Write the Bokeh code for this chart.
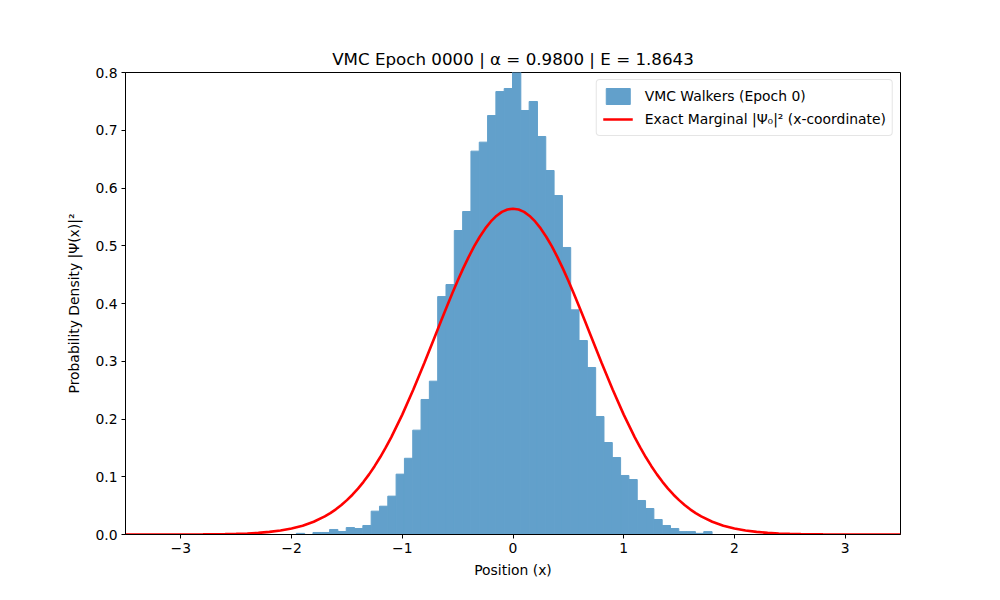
import numpy as np
from bokeh.plotting import figure
from bokeh.models import Legend, LegendItem, FixedTicker, Range1d
from bokeh.embed import file_html
from bokeh.resources import INLINE

# Histogram of walker positions (density-normalised), uniform bins
bin_start = -1.957
bin_width = 0.0751
walker_density = [
    0.0020, 0.0000, 0.0035, 0.0035, 0.0087, 0.0052, 0.0120, 0.0104, 0.0156, 0.0404,
    0.0490, 0.0664, 0.1045, 0.1320, 0.1807, 0.2338, 0.2655, 0.4120, 0.4329, 0.5264,
    0.5593, 0.6638, 0.6794, 0.7255, 0.7670, 0.7723, 0.8050, 0.7342, 0.7498, 0.6892,
    0.6303, 0.5870, 0.4970, 0.3890, 0.3359, 0.2892, 0.2043, 0.1593, 0.1333, 0.1022,
    0.0952, 0.0589, 0.0450, 0.0260, 0.0156, 0.0104, 0.0050, 0.0050, 0.0020, 0.0050,
]

# Exact ground-state marginal density along x
curve_x = [
    -3.5, -3.0, -2.8, -2.6, -2.5, -2.4, -2.3, -2.2, -2.1, -2.0, -1.9, -1.8, -1.7,
    -1.65, -1.6, -1.55, -1.5, -1.45, -1.4, -1.35, -1.3, -1.25, -1.2, -1.15, -1.1,
    -1.0, -0.9, -0.8, -0.7, -0.65, -0.6, -0.55, -0.5, -0.45, -0.4, -0.35, -0.3,
    -0.25, -0.2, -0.15, -0.1, -0.05, 0.0, 0.05, 0.1, 0.15, 0.2, 0.25, 0.3, 0.35,
    0.4, 0.45, 0.5, 0.55, 0.6, 0.65, 0.7, 0.8, 0.9, 1.0, 1.1, 1.15, 1.2, 1.25, 1.3,
    1.35, 1.4, 1.45, 1.5, 1.55, 1.6, 1.65, 1.7, 1.8, 1.9, 2.0, 2.1, 2.2, 2.3, 2.4,
    2.5, 2.6, 2.8, 3.0, 3.5,
]
curve_density = [
    0.0000, 0.0001, 0.0002, 0.0007, 0.0011, 0.0018, 0.0028, 0.0045, 0.0069, 0.0103,
    0.0153, 0.0221, 0.0314,
    0.0371, 0.0436, 0.0510, 0.0595, 0.0689, 0.0795, 0.0912, 0.1041, 0.1183, 0.1337,
    0.1503, 0.1682,
    0.2076, 0.2510, 0.2975, 0.3456, 0.3698, 0.3936, 0.4169, 0.4394, 0.4608, 0.4808,
    0.4992, 0.5156,
    0.5300, 0.5421, 0.5516, 0.5586, 0.5628, 0.5642, 0.5628, 0.5586, 0.5516, 0.5421,
    0.5300, 0.5156, 0.4992,
    0.4808, 0.4608, 0.4394, 0.4169, 0.3936, 0.3698, 0.3456, 0.2975, 0.2510, 0.2076,
    0.1682, 0.1503, 0.1337, 0.1183, 0.1041,
    0.0912, 0.0795, 0.0689, 0.0595, 0.0510, 0.0436, 0.0371, 0.0314, 0.0221, 0.0153,
    0.0103, 0.0069, 0.0045, 0.0028, 0.0018,
    0.0011, 0.0007, 0.0002, 0.0001, 0.0000,
]

x_ticks = [-3, -2, -1, 0, 1, 2, 3]
y_ticks = [0.0, 0.1, 0.2, 0.3, 0.4, 0.5, 0.6, 0.7, 0.8]

FONT = "DejaVu Sans"
BAR_COLOR = "#62a0cb"   # C0 blue at 70% opacity over white

dens = np.array(walker_density)
left = bin_start + bin_width * np.arange(len(dens))
right = left + bin_width

p = figure(
    width=1000, height=600,
    x_range=Range1d(-3.5, 3.5), y_range=Range1d(0, 0.8),
    output_backend="svg", toolbar_location=None,
    title="VMC Epoch 0000 | α = 0.9800 | E = 1.8643",
)
p.min_border_left = 125
p.min_border_right = 100
p.min_border_top = 72
p.min_border_bottom = 66

p.title.align = "center"
p.title.text_font = FONT
p.title.text_font_size = "16.7px"
p.title.text_font_style = "normal"
p.title.text_color = "black"
p.title.standoff = 8

p.xgrid.visible = False
p.ygrid.visible = False
p.outline_line_color = "black"
p.outline_line_width = 1
p.background_fill_color = "white"
p.border_fill_color = "white"

bars = p.quad(left=left, right=right, bottom=0, top=dens,
              fill_color=BAR_COLOR, line_color=BAR_COLOR, line_width=1.0)
curve = p.line(curve_x, curve_density, line_color="red", line_width=2.6)

for ax in (p.xaxis[0], p.yaxis[0]):
    ax.major_tick_in = 0
    ax.major_tick_out = 4
    ax.minor_tick_line_color = None
    ax.major_tick_line_color = "black"
    ax.major_label_text_font = FONT
    ax.major_label_text_font_size = "13.9px"
    ax.major_label_text_color = "black"
    ax.axis_label_text_font = FONT
    ax.axis_label_text_font_size = "13.9px"
    ax.axis_label_text_font_style = "normal"
    ax.axis_label_text_color = "black"
    ax.axis_line_color = "black"
    ax.major_label_standoff = 4

p.xaxis.ticker = FixedTicker(ticks=x_ticks)
p.xaxis.major_label_overrides = {t: (str(t).replace("-", "\u2212")) for t in x_ticks}
p.yaxis.ticker = FixedTicker(ticks=y_ticks)
p.yaxis.major_label_overrides = {t: f"{t:.1f}" for t in y_ticks}
p.xaxis.axis_label = "Position (x)"
p.yaxis.axis_label = "Probability Density |Ψ(x)|²"
p.xaxis.axis_label_standoff = 6
p.yaxis.axis_label_standoff = 10

legend = Legend(items=[
    LegendItem(label="VMC Walkers (Epoch 0)", renderers=[bars]),
    LegendItem(label="Exact Marginal |Ψ₀|² (x-coordinate)", renderers=[curve]),
], location="top_right")
legend.label_text_font = FONT
legend.label_text_font_size = "13.9px"
legend.label_text_color = "black"
legend.border_line_color = "#cccccc"
legend.border_line_width = 1
legend.border_radius = 4
legend.background_fill_alpha = 0.8
legend.margin = 7
legend.padding = 6
legend.spacing = 3
legend.glyph_width = 30
legend.label_standoff = 12
p.add_layout(legend)

open("out.html", "w").write(file_html(p, INLINE))
